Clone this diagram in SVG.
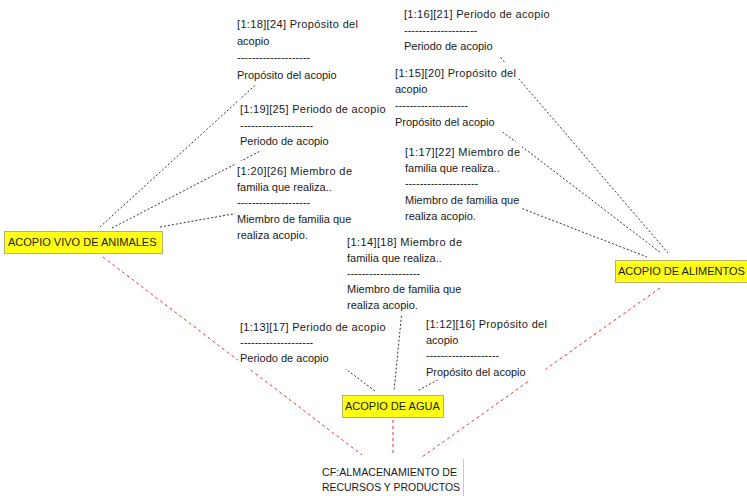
<svg xmlns="http://www.w3.org/2000/svg" width="747" height="496" viewBox="0 0 747 496">
<style>
text{font-family:"Liberation Sans",Arial,sans-serif;font-size:11px;fill:#1a1a1a}
.bg{fill:#fff}
.q{fill:#ffff14;stroke:#b4b46a;stroke-width:1}
.k{stroke:#333;stroke-width:1;stroke-dasharray:2,2;fill:none}
.r{stroke:#f03030;stroke-width:1;stroke-dasharray:3,3;fill:none}
</style>
<rect width="747" height="496" fill="#fff"/>
<g id="connectors">
<line class="k" x1="100" y1="227" x2="262" y2="79"/>
<line class="k" x1="112" y1="228" x2="270" y2="146"/>
<line class="k" x1="160" y1="227" x2="255" y2="210"/>
<line class="k" x1="477" y1="30" x2="668" y2="253"/>
<line class="k" x1="474" y1="110" x2="661" y2="253"/>
<line class="k" x1="500" y1="200" x2="647" y2="257"/>
<line class="k" x1="335" y1="361" x2="375" y2="391"/>
<line class="k" x1="405" y1="280" x2="394" y2="391"/>
<line class="k" x1="445" y1="376" x2="417" y2="391"/>
<line class="r" x1="103" y1="257" x2="362" y2="455"/>
<line class="r" x1="393" y1="420" x2="393" y2="456"/>
<line class="r" x1="660" y1="288" x2="422" y2="457"/>
</g>
<g id="n1">
<rect class="bg" x="235" y="14" width="125" height="71"/>
<text x="237" y="28" textLength="121" lengthAdjust="spacing">[1:18][24] Propósito del</text>
<text x="237" y="45">acopio</text>
<text x="237" y="61">--------------------</text>
<text x="237" y="79">Propósito del acopio</text>
</g>
<g id="n2">
<rect class="bg" x="402" y="4" width="150" height="52"/>
<text x="404" y="18" textLength="145.5" lengthAdjust="spacing">[1:16][21] Periodo de acopio</text>
<text x="404" y="34">--------------------</text>
<text x="404" y="50">Periodo de acopio</text>
</g>
<g id="n3">
<rect class="bg" x="393" y="63" width="125" height="69"/>
<text x="395" y="77" textLength="121" lengthAdjust="spacing">[1:15][20] Propósito del</text>
<text x="395" y="93">acopio</text>
<text x="395" y="109">--------------------</text>
<text x="395" y="126">Propósito del acopio</text>
</g>
<g id="n4">
<rect class="bg" x="238" y="99" width="150" height="52"/>
<text x="240" y="113" textLength="145.5" lengthAdjust="spacing">[1:19][25] Periodo de acopio</text>
<text x="240" y="129">--------------------</text>
<text x="240" y="145">Periodo de acopio</text>
</g>
<g id="n5">
<rect class="bg" x="235" y="161" width="121" height="84"/>
<text x="237" y="175" textLength="115" lengthAdjust="spacing">[1:20][26] Miembro de</text>
<text x="237" y="191">familia que realiza..</text>
<text x="237" y="206">--------------------</text>
<text x="237" y="223">Miembro de familia que</text>
<text x="237" y="239">realiza acopio.</text>
</g>
<g id="n6">
<rect class="bg" x="403" y="142" width="119" height="84"/>
<text x="405" y="156" textLength="115" lengthAdjust="spacing">[1:17][22] Miembro de</text>
<text x="405" y="172">familia que realiza..</text>
<text x="405" y="187">--------------------</text>
<text x="405" y="204">Miembro de familia que</text>
<text x="405" y="220">realiza acopio.</text>
</g>
<g id="n7">
<rect class="bg" x="345" y="232" width="119" height="83"/>
<text x="347" y="246" textLength="115" lengthAdjust="spacing">[1:14][18] Miembro de</text>
<text x="347" y="262">familia que realiza..</text>
<text x="347" y="277">--------------------</text>
<text x="347" y="293">Miembro de familia que</text>
<text x="347" y="309">realiza acopio.</text>
</g>
<g id="n8">
<rect class="bg" x="238" y="317" width="150" height="52"/>
<text x="240" y="331" textLength="145.5" lengthAdjust="spacing">[1:13][17] Periodo de acopio</text>
<text x="240" y="346">--------------------</text>
<text x="240" y="362">Periodo de acopio</text>
</g>
<g id="n9">
<rect class="bg" x="424" y="314" width="122" height="66"/>
<text x="426" y="328" textLength="121" lengthAdjust="spacing">[1:12][16] Propósito del</text>
<text x="426" y="344">acopio</text>
<text x="426" y="359">--------------------</text>
<text x="426" y="376">Propósito del acopio</text>
</g>
<g id="animales">
<rect class="q" x="4.5" y="231.5" width="158" height="22"/>
<text x="8" y="246">ACOPIO VIVO DE ANIMALES</text>
</g>
<g id="alimentos">
<rect class="q" x="615.5" y="260.5" width="133" height="22"/>
<text x="618" y="275">ACOPIO DE ALIMENTOS</text>
</g>
<g id="agua">
<rect class="q" x="342.5" y="395.5" width="101" height="22"/>
<text x="345" y="410">ACOPIO DE AGUA</text>
</g>
<g id="cf">
<line x1="463.5" y1="459" x2="463.5" y2="496" stroke="#c8c8c8" stroke-width="1"/>
<text x="322" y="476" textLength="135" lengthAdjust="spacingAndGlyphs">CF:ALMACENAMIENTO DE</text>
<text x="322" y="491" textLength="138" lengthAdjust="spacingAndGlyphs">RECURSOS Y PRODUCTOS</text>
</g>
</svg>
